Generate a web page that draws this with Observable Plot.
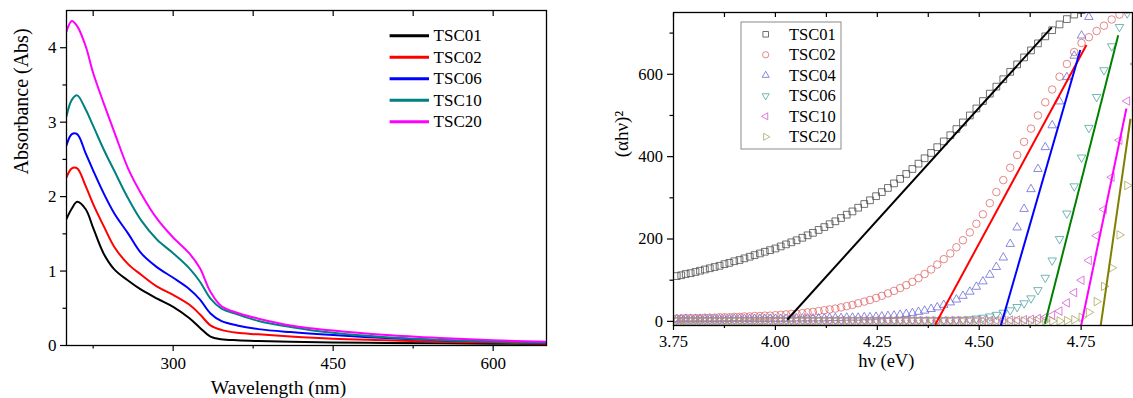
<!DOCTYPE html>
<html><head><meta charset="utf-8">
<script src="https://cdn.jsdelivr.net/npm/d3@7"></script>
<script src="https://cdn.jsdelivr.net/npm/@observablehq/plot@0.6"></script>
<style>
body{margin:0;background:#fff;}
#wrap{position:relative;width:1133px;height:398px;overflow:hidden;background:#fff;}
#left,#right,#legend{position:absolute;top:0;}
#left{left:0;}
#right{left:600px;}
#legend{left:0;pointer-events:none;}
svg text{font-family:"Liberation Serif","Times New Roman",serif;}
</style></head><body><div id="wrap"><div id="left"></div><div id="right"></div><svg id="legend" width="1133" height="398"></svg></div>
<script>
const FONT = "Liberation Serif";

// ---------- Left panel: absorbance spectra ----------
const wavelengths = [200,205,210,218,225,235,245,258,270,285,300,315,325,335,345,360,380,410,450,500,550,600,650];
const absTSC01 = [1.70,1.84,1.93,1.83,1.58,1.23,1.02,0.87,0.75,0.63,0.52,0.37,0.24,0.12,0.085,0.07,0.06,0.05,0.04,0.035,0.03,0.025,0.02];
const absTSC02 = [2.26,2.38,2.38,2.14,1.90,1.60,1.32,1.09,0.95,0.79,0.68,0.55,0.42,0.27,0.21,0.17,0.15,0.12,0.09,0.07,0.05,0.04,0.025];
const absTSC06 = [2.69,2.84,2.84,2.58,2.35,2.04,1.77,1.50,1.24,1.05,0.91,0.76,0.62,0.43,0.33,0.27,0.22,0.18,0.14,0.10,0.07,0.055,0.035];
const absTSC10 = [3.08,3.30,3.36,3.17,2.95,2.63,2.34,1.97,1.68,1.42,1.24,1.04,0.86,0.63,0.50,0.42,0.33,0.25,0.17,0.11,0.075,0.05,0.036];
const absTSC20 = [4.22,4.36,4.29,4.02,3.66,3.25,2.86,2.37,2.04,1.70,1.45,1.24,1.04,0.72,0.53,0.44,0.36,0.27,0.20,0.14,0.10,0.07,0.05];
const absNames = ["TSC01","TSC02","TSC06","TSC10","TSC20"];
const absColors = ["#000000","#ff0000","#0000ff","#008080","#ff00ff"];
const absSeries = [absTSC01,absTSC02,absTSC06,absTSC10,absTSC20];
const absMajorX = [300,450,600];
const absMinorX = [225,375,525];
const absMajorY = [0,1,2,3,4];
const absMinorY = [0.5,1.5,2.5,3.5];

// ---------- Right panel: Tauc plot ----------
const hv = [3.758,3.769,3.780,3.792,3.804,3.815,3.827,3.839,3.851,3.863,
3.875,3.887,3.899,3.912,3.924,3.937,3.949,3.962,3.974,3.987,
4.000,4.013,4.026,4.039,4.052,4.066,4.079,4.092,4.106,4.120,
4.133,4.147,4.161,4.175,4.189,4.203,4.218,4.232,4.247,4.261,
4.276,4.291,4.306,4.321,4.336,4.351,4.366,4.382,4.397,4.413,
4.429,4.444,4.460,4.477,4.493,4.509,4.526,4.542,4.559,4.576,
4.593,4.610,4.627,4.644,4.662,4.679,4.697,4.715,4.733,4.751,
4.769,4.788,4.806,4.825,4.844,4.863,4.882];
const taucTSC01 = [110,112,115,117,120,123,126,129,132,135,
139,142,146,149,153,157,161,165,169,173,
177,182,187,192,197,203,209,215,222,229,
236,243,251,259,267,276,285,294,304,314,
324,335,346,358,370,383,396,409,423,437,
452,467,483,500,517,535,553,570,588,606,
624,641,658,675,692,707,721,734,745,756,
null,null,null,null,null,null,null];
const taucTSC02 = [7,7,8,8,8,8,9,9,9,10,
10,10,11,11,12,12,13,13,14,14,
15,16,17,18,19,20,22,23,25,27,
29,31,34,37,40,44,48,52,57,62,
68,74,81,88,96,105,115,126,138,151,
165,180,197,216,237,260,287,314,343,373,
404,436,468,500,532,563,594,625,654,676,
690,705,718,733,745,757,null];
const taucTSC04 = [5,5,5,5,5,5,5,5,5,5,
5,5,6,6,6,6,6,6,6,6,
6,6,6,6,7,7,7,7,7,7,
8,8,8,9,9,9,10,10,11,12,
13,14,16,18,20,23,26,30,34,40,
46,53,62,72,84,97,113,132,155,188,
228,273,321,370,423,476,534,593,645,694,
739,null,null,null,null,null,null];
const taucTSC06 = [3,3,3,3,3,3,3,3,3,3,
3,3,3,3,3,3,3,3,3,3,
3,3,3,3,3,3,3,3,3,3,
3,3,3,3,3,3,3,3,3,3,
3,3,3,3,3,3,3,3,3,3,
3,4,4,5,7,9,12,16,21,27,
35,44,56,76,106,148,200,262,328,398,
470,545,610,668,715,748,null];
const taucTSC10 = [2,2,2,2,2,2,2,2,2,2,
2,2,2,2,2,2,2,2,2,2,
2,2,2,2,2,2,2,2,2,2,
2,2,2,2,2,2,2,2,2,2,
2,2,2,2,2,2,2,2,2,2,
2,2,2,2,2,2,2,2,3,3,
3,4,5,7,10,15,25,45,70,100,
148,208,272,350,440,535,625];
const taucTSC20 = [1,1,1,1,1,1,1,1,1,1,
1,1,1,1,1,1,1,1,1,1,
1,1,1,1,1,1,1,1,1,1,
1,1,1,1,1,1,1,1,1,1,
1,1,1,1,1,1,1,1,1,1,
1,1,1,1,1,1,1,1,1,1,
1,1,1,1,1,1,1,2,4,10,
22,48,85,130,210,330,480];
const taucNames = ["TSC01","TSC02","TSC04","TSC06","TSC10","TSC20"];
const taucMarkerColors = ["#4d4d4d","#dd6a6a","#6b6bd6","#4fa3a3","#d65bd6","#a8a860"];
const taucSeries = [taucTSC01,taucTSC02,taucTSC04,taucTSC06,taucTSC10,taucTSC20];
// linear fits (end points)
const fitX1 = [4.029,4.392,4.553,4.661,4.750,4.798];
const fitY1 = [4,-8,-10,-6,-10,-10];
const fitX2 = [4.678,4.763,4.748,4.841,4.861,4.871];
const fitY2 = [714,671,659,695,517,492];
const fitColors = ["#000000","#ff0000","#0000ff","#008000","#ff00ff","#808000"];
const taucMajorX = [3.75,4.00,4.25,4.50,4.75];
const taucMinorX = [3.875,4.125,4.375,4.625];
const taucMajorY = [0,200,400,600];
const taucMinorY = [100,300,500,700];

// ---------- symbols ----------
function tri(angle){
  return {draw(ctx, size){
    const R = Math.sqrt(size/Math.PI)*1.2;
    for(let k=0;k<3;k++){
      const a = angle + k*2*Math.PI/3;
      const px = R*Math.cos(a), py = R*Math.sin(a);
      if(k) ctx.lineTo(px,py); else ctx.moveTo(px,py);
    }
    ctx.closePath();
  }};
}
const symSquare = {draw(ctx,size){const r=Math.sqrt(size/Math.PI)*0.82; ctx.rect(-r,-r,2*r,2*r);}};
const symCircle = {draw(ctx,size){const r=Math.sqrt(size/Math.PI)*0.92; ctx.moveTo(r,0); ctx.arc(0,0,r,0,2*Math.PI);}};
const symbols = [symSquare, symCircle, tri(-Math.PI/2), tri(Math.PI/2), tri(Math.PI), tri(0)];

const axisText = {fontFamily: FONT};

// ---------- left plot ----------
const absRows = absSeries.map(vals => wavelengths.map((w,i)=>({wl:w, a:vals[i]})));
const leftPlot = Plot.plot({
  width: 560, height: 398,
  marginLeft: 66, marginRight: 14, marginTop: 10, marginBottom: 53,
  style: {fontFamily: FONT, fontSize: "17px", background: "white", color: "black"},
  x: {domain: [200, 650], label: null},
  y: {domain: [0, 4.5], label: null},
  marks: [
    ...absRows.map((rows,k)=>Plot.line(rows, {x:"wl", y:"a", stroke: absColors[k], strokeWidth: 2, curve: "catmull-rom", clip: true})),
    Plot.frame({stroke:"black", strokeWidth:1.3}),
    Plot.axisX({...axisText, ticks: absMajorX, tickSize: 6, tickPadding: 5, fontSize: 17, label: null, strokeWidth: 1.2, tickFormat: d=>String(d)}),
    Plot.axisX({ticks: absMinorX, tickSize: 3.5, label: null, strokeWidth: 1.2, tickFormat: ()=>""}),
    Plot.axisX({anchor:"top", ticks: [...absMinorX, ...absMajorX], tickSize: 5, dy: 5, label: null, strokeWidth: 1.2, tickFormat: ()=>""}),
    Plot.axisY({...axisText, ticks: absMajorY, tickSize: 6, tickPadding: 4, fontSize: 17, label: null, strokeWidth: 1.2, tickFormat: d=>String(d)}),
    Plot.axisY({ticks: absMinorY, tickSize: 3.5, label: null, strokeWidth: 1.2, tickFormat: ()=>""}),
    Plot.text(["Wavelength (nm)"], {frameAnchor:"bottom", dx:-28, dy:42, lineAnchor:"middle", fontSize:19.5, fontFamily: FONT, text:d=>d}),
    Plot.text(["Absorbance (Abs)"], {frameAnchor:"left", dx:-45, dy:-3.5, rotate:-90, lineAnchor:"middle", fontSize:20, fontFamily: FONT, text:d=>d})
  ]
});
document.getElementById("left").appendChild(leftPlot);

// ---------- right plot ----------
const taucRows = taucSeries.map(vals => hv.map((x,i)=>({hv:x, v:vals[i]})).filter(d=>d.v!=null));
const fits = fitX1.map((x,i)=>({x1:x, y1:fitY1[i], x2:fitX2[i], y2:fitY2[i], c:fitColors[i]}));
const f2 = d3.format(".2f");
const rightPlot = Plot.plot({
  width: 533, height: 398,
  marginLeft: 73, marginRight: 1, marginTop: 12, marginBottom: 73,
  style: {fontFamily: FONT, fontSize: "16.5px", background: "white", color: "black"},
  x: {domain: [3.75, 4.876], label: null},
  y: {domain: [-10, 750], label: null},
  marks: [
    ...taucRows.map((rows,k)=>Plot.dot(rows, {x:"hv", y:"v", symbol: symbols[k], r: 4.1, stroke: taucMarkerColors[k], strokeWidth: 0.8, fill: "none", clip: true})),
    ...fits.map(f=>Plot.link([f], {x1:"x1", y1:"y1", x2:"x2", y2:"y2", stroke: f.c, strokeWidth: 2, clip: true})),
    Plot.frame({stroke:"black", strokeWidth:1.3}),
    Plot.axisX({...axisText, ticks: taucMajorX, tickSize: 5, tickPadding: 5, fontSize: 16.5, label: null, strokeWidth: 1.2, tickFormat: f2}),
    Plot.axisX({ticks: taucMinorX, tickSize: 3, label: null, strokeWidth: 1.2, tickFormat: ()=>""}),
    Plot.axisX({anchor:"top", ticks: [...taucMajorX, ...taucMinorX], tickSize: 4, dy: 4, label: null, strokeWidth: 1.2, tickFormat: ()=>""}),
    Plot.axisY({...axisText, ticks: taucMajorY, tickSize: 6, tickPadding: 4.5, fontSize: 16.5, label: null, strokeWidth: 1.2, tickFormat: d=>String(d)}),
    Plot.axisY({ticks: taucMinorY, tickSize: 3.5, label: null, strokeWidth: 1.2, tickFormat: ()=>""}),
    Plot.text(["hν (eV)"], {frameAnchor:"bottom", dx:-16.7, dy:36, lineAnchor:"middle", fontSize:18.5, fontFamily: FONT, text:d=>d}),
    Plot.text(["(αhν)²"], {frameAnchor:"left", dx:-52, dy:-11.7, rotate:-90, lineAnchor:"middle", fontSize:19, fontFamily: FONT, text:d=>d})
  ]
});
document.getElementById("right").appendChild(rightPlot);

// ---------- legends ----------
const lg = d3.select("#legend");
absNames.forEach((n,i)=>{
  const y = 35.7 + 21.5*i;
  lg.append("line").attr("x1",389.6).attr("x2",429).attr("y1",y).attr("y2",y).attr("stroke",absColors[i]).attr("stroke-width",3);
  lg.append("text").attr("x",433.6).attr("y",y).attr("dominant-baseline","central").attr("font-family",FONT).attr("font-size",17).text(n);
});
lg.append("rect").attr("x",741).attr("y",22).attr("width",100).attr("height",127).attr("fill","white").attr("stroke","#8a8a8a").attr("stroke-width",1);
taucNames.forEach((n,i)=>{
  const y = 34.3 + 20.5*i;
  lg.append("path").attr("transform",`translate(765.7,${y})`).attr("d", d3.symbol(symbols[i], Math.PI*3.4*3.4)()).attr("fill","none").attr("stroke",taucMarkerColors[i]).attr("stroke-width",0.8);
  lg.append("text").attr("x",789).attr("y",y).attr("dominant-baseline","central").attr("font-family",FONT).attr("font-size",16.5).text(n);
});
</script></body></html>
